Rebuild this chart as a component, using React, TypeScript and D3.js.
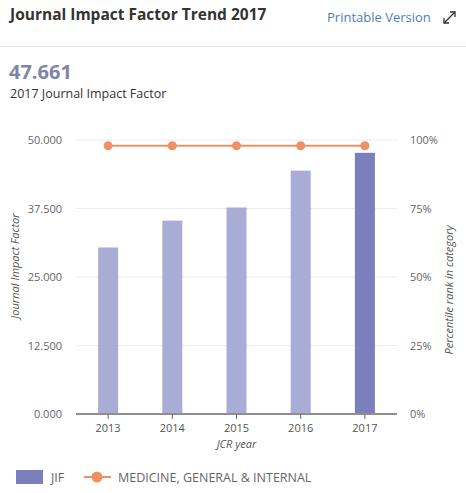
import React from "react";
import * as d3 from "d3";

const years = ["2013", "2014", "2015", "2016", "2017"];
const jifValues = [30.387, 35.289, 37.684, 44.405, 47.661];
const percentileValues = [97.9, 97.9, 97.9, 97.9, 97.9];
const leftTicks = [0, 12.5, 25, 37.5, 50];
const rightTicks = [0, 25, 50, 75, 100];

const W = 466;
const H = 493;
const margin = { left: 76, right: 69, top: 140, bottom: 79 };
const font = "'Open Sans', sans-serif";

export default function App() {
  const x = d3
    .scaleBand<string>()
    .domain(years)
    .range([margin.left, W - margin.right])
    .paddingInner(0)
    .paddingOuter(0);
  const yL = d3.scaleLinear().domain([0, 50]).range([H - margin.bottom, margin.top]);
  const yR = d3.scaleLinear().domain([0, 100]).range([H - margin.bottom, margin.top]);
  const barW = 20;
  const cx = (d: string) => (x(d) as number) + x.bandwidth() / 2;
  const line = d3
    .line<number>()
    .x((_, i) => cx(years[i]))
    .y((d) => yR(d));
  const fmt = d3.format(".3f");
  const y0 = yL(0);

  return (
    <svg
      width={W}
      height={H}
      style={{ position: "absolute", left: 0, top: 0, background: "#fff" }}
      fontFamily={font}
    >
      <rect x={0} y={0} width={W} height={H} fill="#fff" />
      <text x={10} y={20} fontSize={15.5} fontWeight={700} fill="#333">
        Journal Impact Factor Trend 2017
      </text>
      <text x={327} y={22} fontSize={13} fill="#4f7fb5">
        Printable Version
      </text>
      <g stroke="#333" strokeWidth={1.3} fill="none">
        <line x1={444} y1={23} x2={455} y2={12} />
        <polyline points="444,18 444,23 449,23" />
        <polyline points="450,12 455,12 455,17" />
      </g>
      <line x1={0} x2={W} y1={46.5} y2={46.5} stroke="#e3e3e3" strokeWidth={1} />
      <text x={9} y={79} fontSize={20} fontWeight={700} fill="#7f84aa">
        {fmt(jifValues[jifValues.length - 1])}
      </text>
      <text x={10} y={98} fontSize={12.5} fill="#333">
        2017 Journal Impact Factor
      </text>

      {/* grid */}
      {leftTicks.slice(1).map((t) => (
        <line
          key={t}
          x1={margin.left}
          x2={W - margin.right}
          y1={yL(t)}
          y2={yL(t)}
          stroke="#ececec"
          strokeWidth={1}
        />
      ))}
      {leftTicks.map((t) => (
        <text
          key={t}
          x={62}
          y={yL(t) + 4}
          fontSize={11}
          fill="#666"
          textAnchor="end"
        >
          {fmt(t)}
        </text>
      ))}
      {rightTicks.map((t) => (
        <text key={t} x={410} y={yR(t) + 4} fontSize={11} fill="#666">
          {t + "%"}
        </text>
      ))}

      {/* bars */}
      {years.map((yr, i) => (
        <rect
          key={yr}
          x={cx(yr) - barW / 2}
          y={yL(jifValues[i])}
          width={barW}
          height={y0 - yL(jifValues[i])}
          fill={i === years.length - 1 ? "#7b80bd" : "#a9acd4"}
        />
      ))}

      {/* axis */}
      <line
        x1={margin.left}
        x2={W - margin.right}
        y1={y0}
        y2={y0}
        stroke="#8f8f8f"
        strokeWidth={2}
      />
      {years.map((yr) => (
        <g key={yr}>
          <line x1={cx(yr)} x2={cx(yr)} y1={y0} y2={y0 + 5} stroke="#666" strokeWidth={1} />
          <text x={cx(yr)} y={y0 + 18} fontSize={11} fill="#555" textAnchor="middle">
            {yr}
          </text>
        </g>
      ))}
      <text
        x={(margin.left + W - margin.right) / 2}
        y={448}
        fontSize={11}
        fill="#555"
        fontStyle="italic"
        textAnchor="middle"
      >
        JCR year
      </text>
      <text
        transform={`translate(19, 266) rotate(-90)`}
        fontSize={11}
        fill="#555"
        fontStyle="italic"
        textAnchor="middle"
      >
        Journal Impact Factor
      </text>
      <text
        transform={`translate(453, 290) rotate(-90)`}
        fontSize={11}
        fill="#555"
        fontStyle="italic"
        textAnchor="middle"
      >
        Percentile rank in category
      </text>

      {/* percentile line */}
      <path d={line(percentileValues) || ""} fill="none" stroke="#ef9263" strokeWidth={2} />
      {percentileValues.map((v, i) => (
        <circle key={i} cx={cx(years[i])} cy={yR(v)} r={4.5} fill="#ef9263" />
      ))}

      {/* legend */}
      <rect x={16} y={470} width={27} height={14} fill="#7b80bd" />
      <text x={51} y={482} fontSize={12.5} fill="#666">
        JIF
      </text>
      <line x1={84} x2={111} y1={477} y2={477} stroke="#ef9263" strokeWidth={2} />
      <circle cx={97} cy={477} r={5.5} fill="#ef9263" />
      <text x={118} y={482} fontSize={12.5} fill="#666">
        MEDICINE, GENERAL &amp; INTERNAL
      </text>
    </svg>
  );
}
